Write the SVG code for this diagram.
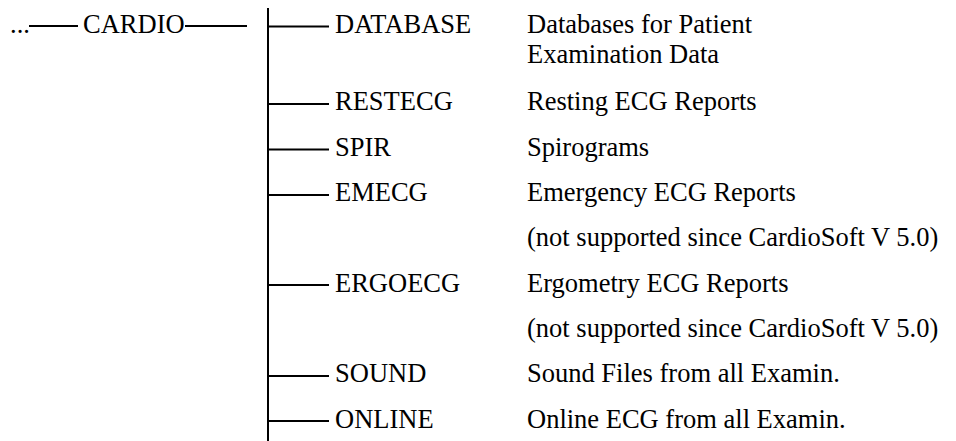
<svg xmlns="http://www.w3.org/2000/svg" width="956" height="441" viewBox="0 0 956 441">
<style>
text{font-family:"Liberation Serif","Times New Roman",serif;font-size:26.5px;fill:#000}
.ln{stroke:#000;stroke-width:2;fill:none}
</style>
<rect width="956" height="441" fill="#fff"/>
<g id="connectors">
<line class="ln" x1="29" y1="26" x2="78" y2="26"/>
<line class="ln" x1="185" y1="26" x2="247" y2="26"/>
<line class="ln" x1="268" y1="8" x2="268" y2="441"/>
<line class="ln" x1="268" y1="26.5" x2="329" y2="26.5"/>
<line class="ln" x1="268" y1="104" x2="329" y2="104"/>
<line class="ln" x1="268" y1="149.5" x2="329" y2="149.5"/>
<line class="ln" x1="268" y1="195" x2="329" y2="195"/>
<line class="ln" x1="268" y1="285" x2="329" y2="285"/>
<line class="ln" x1="268" y1="376" x2="329" y2="376"/>
<line class="ln" x1="268" y1="421" x2="329" y2="421"/>
</g>
<g id="root"><text x="10" y="33">...</text><text x="83" y="33">CARDIO</text></g>
<g id="database"><text x="335" y="33">DATABASE</text><text x="527" y="33">Databases for Patient</text><text x="527" y="63">Examination Data</text></g>
<g id="restecg"><text x="335" y="110">RESTECG</text><text x="527" y="110">Resting ECG Reports</text></g>
<g id="spir"><text x="335" y="155.5">SPIR</text><text x="527" y="155.5">Spirograms</text></g>
<g id="emecg"><text x="335" y="201">EMECG</text><text x="527" y="201">Emergency ECG Reports</text><text x="527" y="246">(not supported since CardioSoft V 5.0)</text></g>
<g id="ergoecg"><text x="335" y="291.5">ERGOECG</text><text x="527" y="291.5">Ergometry ECG Reports</text><text x="527" y="337">(not supported since CardioSoft V 5.0)</text></g>
<g id="sound"><text x="335" y="382">SOUND</text><text x="527" y="382">Sound Files from all Examin.</text></g>
<g id="online"><text x="335" y="427.5">ONLINE</text><text x="527" y="427.5">Online ECG from all Examin.</text></g>
</svg>
